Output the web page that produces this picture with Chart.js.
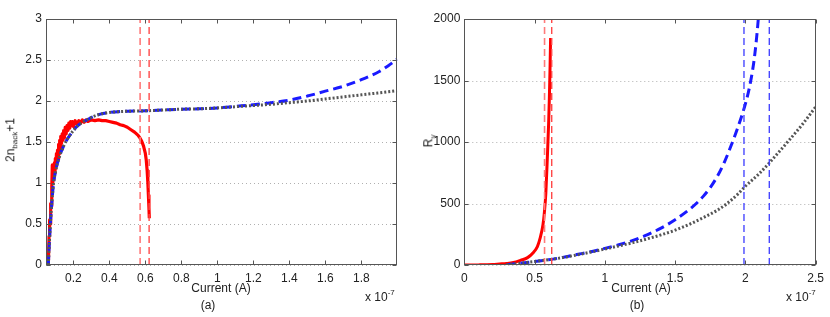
<!DOCTYPE html>
<html>
<head>
<meta charset="utf-8">
<script src="https://cdn.jsdelivr.net/npm/chart.js@4.4.1/dist/chart.umd.min.js"></script>
<style>
  html,body{margin:0;padding:0;background:#fff;}
  #wrap{position:relative;width:830px;height:317px;overflow:hidden;font-family:"Liberation Sans",Arial,sans-serif;color:#222;}
  canvas{position:absolute;top:0;}
  .lbl{position:absolute;font-size:12px;white-space:nowrap;line-height:1;}
  .c{transform:translateX(-50%);}
  .rot{position:absolute;width:0;height:0;}
  .rot span{position:absolute;left:0;top:0;transform:translate(-50%,-50%) rotate(-90deg);font-size:12px;white-space:nowrap;line-height:1;}
  sub,sup{font-size:8px;}
  sup{position:relative;top:-1px;}
</style>
</head>
<body>
<div id="wrap">
  <canvas id="ca" width="415" height="317" style="left:0;width:415px;height:317px"></canvas>
  <canvas id="cb" width="415" height="317" style="left:415px;width:415px;height:317px"></canvas>
  <div class="rot" style="left:12px;top:140px"><span>2n<sub>back</sub>+1</span></div>
  <div class="rot" style="left:430px;top:141px"><span>R<sub>γ</sub></span></div>
  <div class="lbl c" style="left:221px;top:282px">Current (A)</div>
  <div class="lbl c" style="left:208px;top:299px">(a)</div>
  <div class="lbl" style="left:365px;top:290px">x 10<sup>-7</sup></div>
  <div class="lbl c" style="left:641px;top:282px">Current (A)</div>
  <div class="lbl c" style="left:637px;top:299px">(b)</div>
  <div class="lbl" style="left:786px;top:290px">x 10<sup>-7</sup></div>
</div>
<script>
// ---------- Panel (a) data (x in units of 1e-7 A) ----------
const aXTicks = [0.2,0.4,0.6,0.8,1.0,1.2,1.4,1.6,1.8];
const aYTicks = [0,0.5,1,1.5,2,2.5,3];
const aGrayX = [0.061,0.065,0.07,0.075,0.08,0.09,0.1,0.11,0.12,0.13,0.14,0.15,0.165,0.18,0.2,0.22,0.25,0.28,0.31,0.35,0.4,0.45,0.5,0.6,0.7,0.8,0.9,1.0,1.1,1.2,1.3,1.4,1.5,1.6,1.7,1.8,1.9,1.999];
const aGrayY = [0,0.2,0.42,0.6,0.75,1.0,1.13,1.23,1.3,1.37,1.42,1.47,1.53,1.58,1.64,1.69,1.74,1.775,1.81,1.84,1.86,1.87,1.875,1.88,1.89,1.9,1.905,1.915,1.93,1.945,1.96,1.98,2.0,2.025,2.05,2.075,2.1,2.125];
const aBlueX = [0.061,0.065,0.07,0.075,0.08,0.09,0.1,0.11,0.12,0.13,0.14,0.15,0.165,0.18,0.2,0.22,0.25,0.28,0.31,0.35,0.4,0.45,0.5,0.6,0.7,0.8,0.9,1.0,1.1,1.2,1.3,1.4,1.5,1.6,1.7,1.8,1.9,1.95,1.999];
const aBlueY = [0,0.2,0.42,0.6,0.75,1.0,1.13,1.23,1.3,1.37,1.42,1.47,1.53,1.58,1.64,1.69,1.74,1.775,1.81,1.84,1.86,1.87,1.875,1.88,1.89,1.9,1.905,1.915,1.935,1.955,1.98,2.01,2.06,2.12,2.18,2.26,2.36,2.43,2.51];
const aRedX = [0.061,0.065,0.068,0.071,0.074,0.077,0.08,0.083,0.086,0.089,0.092,0.095,0.098,0.1,0.103,0.106,0.109,0.112,0.115,0.118,0.121,0.124,0.127,0.13,0.134,0.138,0.142,0.146,0.15,0.155,0.16,0.165,0.17,0.175,0.18,0.185,0.19,0.195,0.2,0.21,0.22,0.23,0.24,0.25,0.26,0.27,0.28,0.3,0.32,0.34,0.36,0.38,0.4,0.42,0.44,0.46,0.48,0.5,0.52,0.54,0.56,0.57,0.58,0.59,0.6,0.605,0.61,0.614,0.617,0.62,0.622];
const aRedY = [0,0.35,0.55,0.5,0.75,0.72,0.95,1.22,1.0,1.2,1.05,1.25,1.12,1.3,1.18,1.36,1.25,1.4,1.3,1.47,1.36,1.52,1.42,1.57,1.48,1.6,1.52,1.64,1.55,1.68,1.6,1.7,1.64,1.73,1.67,1.75,1.7,1.75,1.69,1.76,1.72,1.76,1.73,1.77,1.74,1.77,1.75,1.77,1.76,1.77,1.76,1.76,1.75,1.74,1.73,1.71,1.70,1.68,1.65,1.62,1.58,1.55,1.51,1.45,1.36,1.28,1.15,1.0,0.85,0.7,0.57];
const aRedMarks = [0.571,0.621];

// ---------- Panel (b) data ----------
const bXTicks = [0,0.5,1,1.5,2,2.5];
const bYTicks = [0,500,1000,1500,2000];
const bRedX = [0,0.1,0.2,0.25,0.3,0.35,0.4,0.45,0.49,0.52,0.54,0.56,0.57,0.58,0.59,0.6,0.605,0.61,0.614];
const bRedY = [0,1,4,8,12,20,38,60,100,150,220,330,430,580,850,1150,1350,1600,1845];
const bBlueX = [0.3,0.35,0.4,0.5,0.6,0.7,0.8,0.9,1.0,1.1,1.2,1.3,1.4,1.5,1.6,1.66,1.7,1.75,1.8,1.85,1.9,1.95,2.0,2.03,2.06,2.08,2.095,2.1];
const bBlueY = [2,8,15,28,43,62,85,108,135,165,200,245,300,368,450,510,558,630,720,835,975,1130,1310,1450,1650,1850,2050,2150];
const bGrayX = [0.3,0.35,0.4,0.5,0.6,0.7,0.8,0.9,1.0,1.1,1.2,1.3,1.4,1.5,1.6,1.7,1.8,1.87,1.95,2.0,2.1,2.17,2.3,2.4,2.5];
const bGrayY = [2,8,15,28,43,60,82,105,130,155,182,212,245,283,330,385,445,500,580,640,745,830,1000,1135,1285];
const bRedMarks = [0.571,0.622];
const bBlueMarks = [1.99,2.17];

const pts = (xs, ys) => xs.map((x, i) => ({x, y: ys[i]}));
const vline = (x, lo, hi) => [{x, y: lo}, {x, y: hi}];

Chart.defaults.font.family = '"Liberation Sans", Arial, sans-serif';
Chart.defaults.font.size = 12;
Chart.defaults.color = '#222';

const framePlugin = {
  id: 'frame',
  beforeDatasetsDraw(chart) {
    const {ctx, chartArea: a, scales: {y}} = chart;
    ctx.save();
    ctx.strokeStyle = '#b0b0b0';
    ctx.lineWidth = 1;
    ctx.setLineDash([1, 3]);
    y.ticks.forEach(t => {
      const py = Math.round(y.getPixelForValue(t.value)) + 0.5;
      ctx.beginPath(); ctx.moveTo(a.left, py); ctx.lineTo(a.right, py); ctx.stroke();
    });
    ctx.restore();
  },
  afterDatasetsDraw(chart) {
    const {ctx, chartArea: a, scales: {x, y}} = chart;
    ctx.save();
    ctx.setLineDash([]);
    ctx.strokeStyle = '#555';
    ctx.lineWidth = 1;
    const L = Math.round(a.left) + 0.5, R = Math.round(a.right) - 0.5;
    const T = Math.round(a.top) + 0.5, B = Math.round(a.bottom) - 0.5;
    ctx.strokeRect(L, T, R - L, B - T);
    ctx.beginPath();
    x.ticks.forEach(t => {
      const px = Math.round(x.getPixelForValue(t.value)) + 0.5;
      ctx.moveTo(px, B); ctx.lineTo(px, B - 4);
      ctx.moveTo(px, T); ctx.lineTo(px, T + 4);
    });
    y.ticks.forEach(t => {
      const py = Math.round(y.getPixelForValue(t.value)) + 0.5;
      ctx.moveTo(L, py); ctx.lineTo(L + 4, py);
      ctx.moveTo(R, py); ctx.lineTo(R - 4, py);
    });
    ctx.stroke();
    ctx.restore();
  }
};

function makeChart(id, cfg) {
  const fixTicks = arr => (s) => { s.ticks = arr.map(v => ({value: v})); };
  return new Chart(document.getElementById(id), {
    type: 'line',
    data: {datasets: cfg.datasets},
    options: {
      responsive: false,
      animation: false,
      devicePixelRatio: 1,
      layout: {padding: {left: 0, right: cfg.padRight, top: 19, bottom: 0}},
      plugins: {legend: {display: false}, tooltip: {enabled: false}},
      elements: {point: {radius: 0}, line: {tension: 0, borderJoinStyle: 'round', borderCapStyle: 'butt'}},
      scales: {
        x: {
          type: 'linear', min: cfg.xmin, max: cfg.xmax,
          grid: {display: false, drawTicks: false}, border: {display: false},
          afterBuildTicks: fixTicks(cfg.xTicks),
          afterFit: s => { s.height = 52; },
          ticks: {padding: 6, maxRotation: 0, autoSkip: false, color: '#222',
                  callback: v => String(Math.round(v * 100) / 100)}
        },
        y: {
          type: 'linear', min: cfg.ymin, max: cfg.ymax,
          grid: {display: false, drawTicks: false}, border: {display: false},
          afterBuildTicks: fixTicks(cfg.yTicks),
          afterFit: s => { s.width = cfg.yWidth; },
          ticks: {padding: 4, color: '#222', callback: v => String(v)}
        }
      }
    },
    plugins: [framePlugin]
  });
}

const dashRedLight = {borderColor: '#ff7a7a', borderWidth: 1.6, borderDash: [7, 4]};
const dashRed = {borderColor: '#ff4848', borderWidth: 1.4, borderDash: [7, 4]};
const dashBlue = {borderColor: '#3a3aff', borderWidth: 1.3, borderDash: [7, 4]};
const smooth = {cubicInterpolationMode: 'monotone'};

makeChart('ca', {
  xmin: 0.048, xmax: 2.0, ymin: 0, ymax: 3, yWidth: 46, padRight: 17.7,
  xTicks: aXTicks, yTicks: aYTicks,
  datasets: [
    {data: vline(aRedMarks[0], 0, 3), ...dashRedLight},
    {data: vline(aRedMarks[1], 0, 3), ...dashRed},
    {data: pts(aGrayX, aGrayY), borderColor: '#555555', borderWidth: 3, borderDash: [2, 2], ...smooth},
    {data: pts(aBlueX, aBlueY), borderColor: '#1a1aff', borderWidth: 3, borderDash: [9, 5], ...smooth},
    {data: pts(aRedX, aRedY), borderColor: '#ff0000', borderWidth: 3.2}
  ]
});

makeChart('cb', {
  xmin: 0, xmax: 2.5, ymin: 0, ymax: 2000, yWidth: 49.3, padRight: 12.2,
  xTicks: bXTicks, yTicks: bYTicks,
  datasets: [
    {data: vline(bRedMarks[0], 0, 2000), ...dashRedLight},
    {data: vline(bRedMarks[1], 0, 2000), ...dashRed},
    {data: vline(bBlueMarks[0], 0, 2000), ...dashBlue},
    {data: vline(bBlueMarks[1], 0, 2000), ...dashBlue},
    {data: pts(bGrayX, bGrayY), borderColor: '#555555', borderWidth: 3, borderDash: [2, 2], ...smooth},
    {data: pts(bBlueX, bBlueY), borderColor: '#1a1aff', borderWidth: 3, borderDash: [9, 5], ...smooth},
    {data: pts(bRedX, bRedY), borderColor: '#ff0000', borderWidth: 3, ...smooth}
  ]
});
</script>
</body>
</html>
